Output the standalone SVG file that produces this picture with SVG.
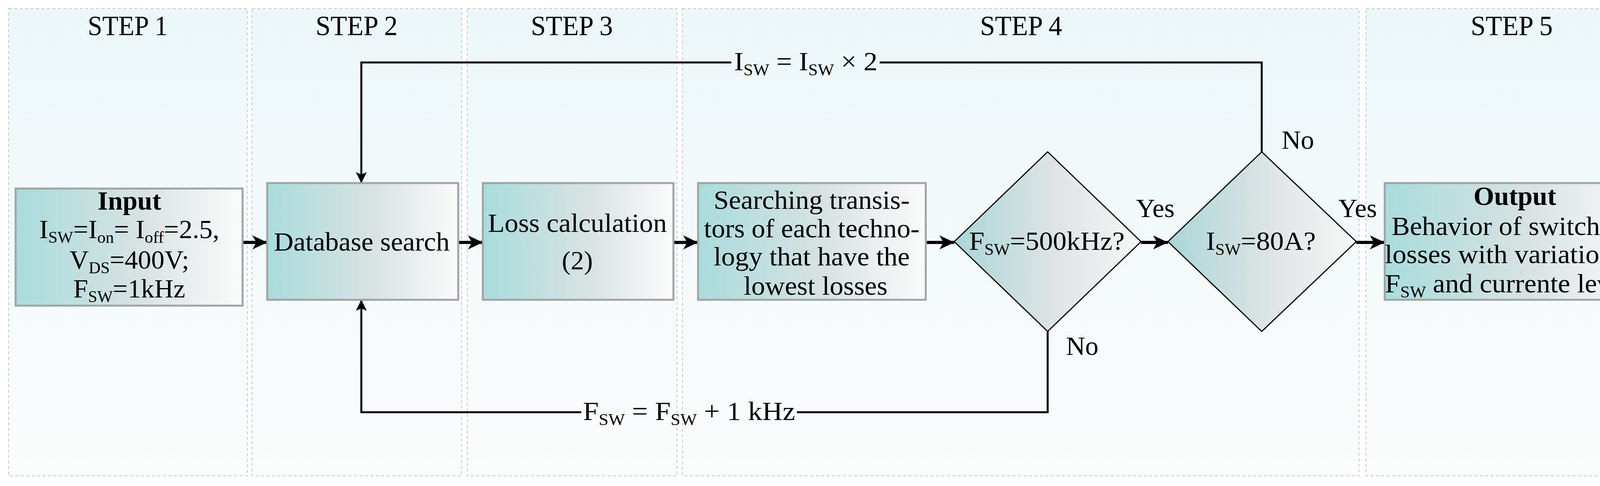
<svg xmlns="http://www.w3.org/2000/svg" width="4261" height="1245" viewBox="0 0 4261 1245">
<defs>
<linearGradient id="lane" x1="0" y1="0" x2="0" y2="1"><stop offset="0" stop-color="#ecf7f9"/><stop offset="1" stop-color="#fbfcfc"/></linearGradient>
<linearGradient id="box" x1="0" y1="0" x2="1" y2="0"><stop offset="0" stop-color="#a9dcdc"/><stop offset="0.55" stop-color="#d8e2e2"/><stop offset="1" stop-color="#fbfbfb"/></linearGradient>
<linearGradient id="dia" x1="0" y1="0" x2="1" y2="0"><stop offset="0" stop-color="#a9d6d8"/><stop offset="0.55" stop-color="#dfe4e4"/><stop offset="1" stop-color="#f7f7f7"/></linearGradient>
<marker id="ah" markerUnits="userSpaceOnUse" markerWidth="40" markerHeight="36" refX="38" refY="18" orient="auto"><path d="M0,0 L38,18 L0,36 L10,18 Z" fill="#000"/></marker>
<marker id="ah2" markerUnits="userSpaceOnUse" markerWidth="30" markerHeight="50" refX="28" refY="14" orient="auto"><path d="M0,0 L28,14 L0,28 L6,14 Z" fill="#000"/></marker>
</defs>
<style>
.lane{fill:url(#lane);stroke:#c4c8c8;stroke-width:2;stroke-dasharray:8,6}
.box{fill:url(#box);stroke:#a0a4a4;stroke-width:5}
.dia{fill:url(#dia);stroke:#000;stroke-width:3}
text{font-family:"Liberation Serif","Times New Roman",serif;font-size:68px;fill:#000}
.h{font-size:72px}
.t{text-anchor:middle}
.b{font-weight:bold}
.s{font-size:42px}
.c{fill:none;stroke:#000;stroke-width:8;marker-end:url(#ah)}
.l{fill:none;stroke:#000;stroke-width:5}
</style>
<g id="lanes">
<rect class="lane" x="22" y="22" width="611" height="1197"/>
<rect class="lane" x="645" y="22" width="537" height="1197"/>
<rect class="lane" x="1196" y="22" width="537" height="1197"/>
<rect class="lane" x="1747" y="22" width="1732" height="1197"/>
<rect class="lane" x="3497" y="22" width="741" height="1197"/>
<text class="t h" x="327" y="90" textLength="205" lengthAdjust="spacingAndGlyphs">STEP 1</text>
<text class="t h" x="913" y="90" textLength="210" lengthAdjust="spacingAndGlyphs">STEP 2</text>
<text class="t h" x="1464" y="90" textLength="210" lengthAdjust="spacingAndGlyphs">STEP 3</text>
<text class="t h" x="2614" y="90" textLength="210" lengthAdjust="spacingAndGlyphs">STEP 4</text>
<text class="t h" x="3870" y="90" textLength="210" lengthAdjust="spacingAndGlyphs">STEP 5</text>
</g>
<g id="connectors">
<line class="c" x1="621" y1="621" x2="684" y2="621"/>
<line class="c" x1="1173" y1="621" x2="1236" y2="621"/>
<line class="c" x1="1724" y1="621" x2="1787" y2="621"/>
<line class="c" x1="2370" y1="621" x2="2443" y2="621"/>
<line class="c" x1="2921" y1="621" x2="2990" y2="621"/>
<line class="c" x1="3472" y1="621" x2="3545" y2="621"/>
<path class="l" d="M1872,160 H925 V469" marker-end="url(#ah2)"/>
<path class="l" d="M2252,160 H3230 V389"/>
<path class="l" d="M1488,1056 H925 V768" marker-end="url(#ah2)"/>
<path class="l" d="M2040,1056 H2682 V849"/>
<text class="t" x="2063" y="180" textLength="367" lengthAdjust="spacingAndGlyphs">I<tspan class="s" dy="13">SW</tspan><tspan dy="-13"> = I</tspan><tspan class="s" dy="13">SW</tspan><tspan dy="-13"> × 2</tspan></text>
<text class="t" x="1764" y="1076" textLength="543" lengthAdjust="spacingAndGlyphs">F<tspan class="s" dy="13">SW</tspan><tspan dy="-13"> = F</tspan><tspan class="s" dy="13">SW</tspan><tspan dy="-13"> + 1 kHz</tspan></text>
<text x="2729" y="909">No</text>
<text x="3281" y="381">No</text>
<text x="2908" y="556">Yes</text>
<text x="3426" y="556">Yes</text>
</g>
<g id="input">
<rect class="box" x="40" y="483" width="581" height="300"/>
<text class="t b" x="331" y="537">Input</text>
<text class="t" x="331" y="610" textLength="461" lengthAdjust="spacingAndGlyphs">I<tspan class="s" dy="12">SW</tspan><tspan dy="-12">=I</tspan><tspan class="s" dy="12">on</tspan><tspan dy="-12">= I</tspan><tspan class="s" dy="12">off</tspan><tspan dy="-12">=2.5,</tspan></text>
<text class="t" x="331" y="688">V<tspan class="s" dy="12">DS</tspan><tspan dy="-12">=400V;</tspan></text>
<text class="t" x="331" y="762">F<tspan class="s" dy="12">SW</tspan><tspan dy="-12">=1kHz</tspan></text>
</g>
<g id="database">
<rect class="box" x="684" y="469" width="489" height="299"/>
<text class="t" x="926" y="642" textLength="450" lengthAdjust="spacingAndGlyphs">Database search</text>
</g>
<g id="loss">
<rect class="box" x="1236" y="469" width="488" height="299"/>
<text class="t" x="1478" y="594" textLength="458" lengthAdjust="spacingAndGlyphs">Loss calculation</text>
<text class="t" x="1478" y="690">(2)</text>
</g>
<g id="searching">
<rect class="box" x="1787" y="469" width="583" height="299"/>
<text class="t" x="2078" y="535" textLength="502" lengthAdjust="spacingAndGlyphs">Searching transis-</text>
<text class="t" x="2078" y="608" textLength="552" lengthAdjust="spacingAndGlyphs">tors of each techno-</text>
<text class="t" x="2078" y="680" textLength="502" lengthAdjust="spacingAndGlyphs">logy that have the</text>
<text class="t" x="2088" y="755" textLength="368" lengthAdjust="spacingAndGlyphs">lowest losses</text>
</g>
<g id="decision-fsw">
<polygon class="dia" points="2682,389 2921,619 2682,849 2443,619"/>
<text class="t" x="2680" y="640" textLength="398" lengthAdjust="spacingAndGlyphs">F<tspan class="s" dy="13">SW</tspan><tspan dy="-13">=500kHz?</tspan></text>
</g>
<g id="decision-isw">
<polygon class="dia" points="3230,389 3472,619 3230,849 2990,619"/>
<text class="t" x="3228" y="640" textLength="281" lengthAdjust="spacingAndGlyphs">I<tspan class="s" dy="13">SW</tspan><tspan dy="-13">=80A?</tspan></text>
</g>
<g id="output">
<rect class="box" x="3545" y="469" width="667" height="299"/>
<text class="t b" x="3878" y="525">Output</text>
<text class="t" x="3874" y="602" textLength="623" lengthAdjust="spacingAndGlyphs">Behavior of switching</text>
<text class="t" x="3876" y="674" textLength="662" lengthAdjust="spacingAndGlyphs">losses with variation of</text>
<text class="t" x="3874" y="749" textLength="657" lengthAdjust="spacingAndGlyphs">F<tspan class="s" dy="13">SW</tspan><tspan dy="-13"> and currente levels</tspan></text>
</g>
</svg>
